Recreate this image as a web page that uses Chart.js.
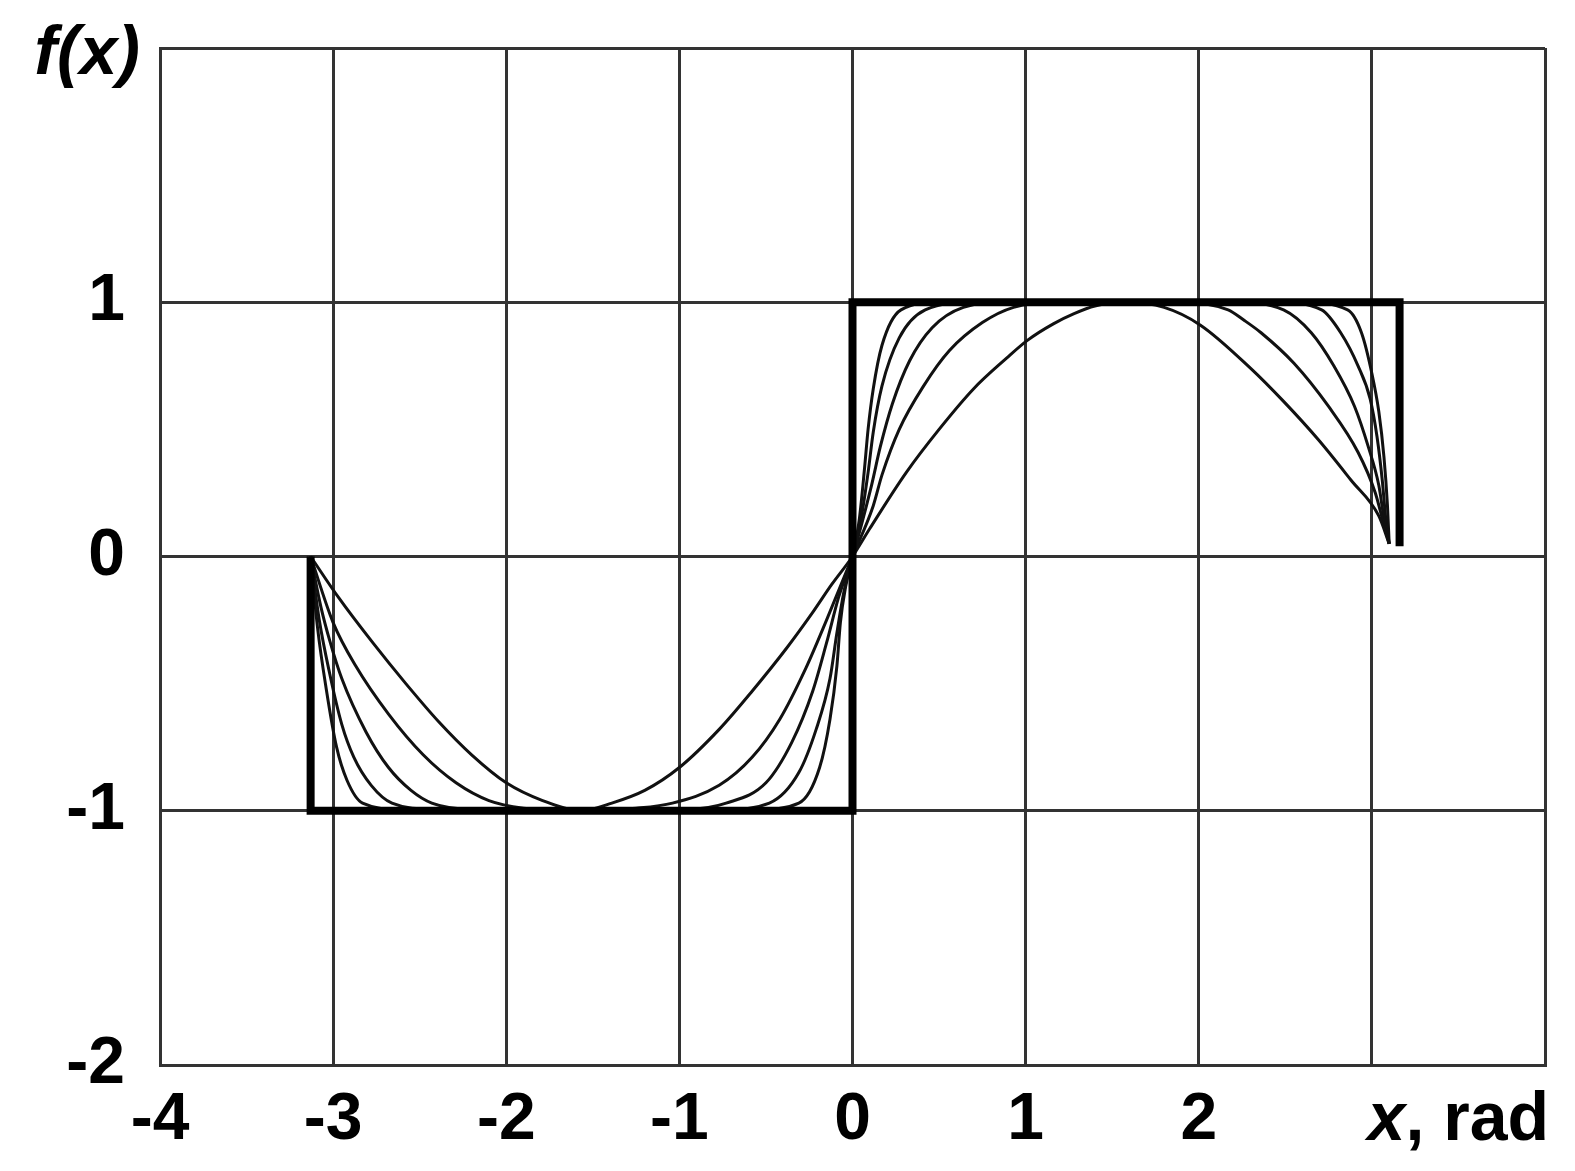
<!DOCTYPE html>
<html>
<head>
<meta charset="utf-8">
<script src="https://cdn.jsdelivr.net/npm/chart.js@4.4.1/dist/chart.umd.min.js"></script>
<style>
    body { margin: 0; background: #fff; }
</style>
</head>
<body>
<canvas id="FourierChart" width="1575" height="1171"></canvas>
<script>
// tick labels (3 and 4 on x, 2 on y are replaced by the axis names)
const xTickLabels = { '-4': '-4', '-3': '-3', '-2': '-2', '-1': '-1', '0': '0', '1': '1', '2': '2', '3': '', '4': '' };
const yTickLabels = { '-2': '-2', '-1': '-1', '0': '0', '1': '1', '2': '' };

// square wave, [x, y]
const squareWave = [[-3.13, 0], [-3.13, -1], [0, -1], [0, 1], [3.16, 1], [3.16, 0.04]];

// the five approximating curves, outermost (sin-like) to innermost
const curveA = [[-3.13, 0], [-2.97, -0.16], [-2.77, -0.34], [-2.58, -0.50], [-2.39, -0.65], [-2.20, -0.78], [-2.00, -0.89], [-1.79, -0.96], [-1.57, -1.0],
    [-1.39, -0.97], [-1.20, -0.92], [-1.00, -0.83], [-0.77, -0.68], [-0.58, -0.53], [-0.38, -0.36], [-0.23, -0.22], [-0.12, -0.11], [0, 0],
    [0.10, 0.11], [0.31, 0.33], [0.50, 0.50], [0.70, 0.66], [0.89, 0.78], [1.01, 0.85], [1.16, 0.915], [1.28, 0.955], [1.40, 0.985], [1.57, 1.0],
    [1.80, 0.98], [2.01, 0.91], [2.30, 0.74], [2.49, 0.61], [2.69, 0.46], [2.88, 0.30], [3.04, 0.16], [3.10, 0.05]];
const curveB = [[-3.13, 0], [-3.00, -0.26], [-2.87, -0.43], [-2.68, -0.62], [-2.48, -0.78], [-2.29, -0.89], [-2.10, -0.96], [-1.90, -0.99], [-1.57, -1.0],
    [-1.25, -0.99], [-1.04, -0.97], [-0.77, -0.90], [-0.58, -0.79], [-0.42, -0.64], [-0.27, -0.44], [-0.15, -0.25], [0, 0],
    [0.12, 0.20], [0.17, 0.32], [0.27, 0.50], [0.41, 0.67], [0.56, 0.81], [0.75, 0.92], [0.93, 0.98], [1.20, 1.0],
    [1.90, 1.0], [2.17, 0.97], [2.26, 0.93], [2.36, 0.88], [2.55, 0.76], [2.75, 0.59], [2.92, 0.41], [3.02, 0.25], [3.06, 0.15], [3.10, 0.05]];
const curveC = [[-3.13, 0], [-3.07, -0.20], [-3.02, -0.33], [-2.95, -0.48], [-2.81, -0.69], [-2.68, -0.83], [-2.55, -0.92], [-2.43, -0.97], [-2.20, -0.995], [-1.57, -1.0],
    [-0.95, -0.995], [-0.73, -0.97], [-0.50, -0.89], [-0.35, -0.73], [-0.23, -0.53], [-0.15, -0.34], [-0.08, -0.16], [0, 0],
    [0.11, 0.28], [0.16, 0.43], [0.23, 0.60], [0.33, 0.77], [0.46, 0.90], [0.64, 0.98], [0.90, 1.0],
    [2.20, 1.0], [2.49, 0.97], [2.65, 0.88], [2.78, 0.75], [2.90, 0.59], [2.98, 0.43], [3.04, 0.28], [3.07, 0.15], [3.10, 0.05]];
const curveD = [[-3.13, 0], [-3.08, -0.25], [-3.02, -0.46], [-2.95, -0.66], [-2.88, -0.79], [-2.78, -0.90], [-2.66, -0.97], [-2.40, -0.995], [-1.57, -1.0],
    [-0.75, -0.995], [-0.48, -0.97], [-0.31, -0.85], [-0.21, -0.68], [-0.13, -0.48], [-0.09, -0.30], [-0.05, -0.14], [0, 0],
    [0.05, 0.15], [0.09, 0.33], [0.12, 0.49], [0.17, 0.67], [0.27, 0.86], [0.42, 0.97], [0.70, 1.0],
    [2.45, 1.0], [2.71, 0.97], [2.82, 0.88], [2.92, 0.75], [2.99, 0.62], [3.03, 0.47], [3.06, 0.30], [3.08, 0.15], [3.10, 0.05]];
const curveE = [[-3.13, 0], [-3.09, -0.28], [-3.04, -0.52], [-2.98, -0.75], [-2.92, -0.88], [-2.83, -0.97], [-2.60, -0.995], [-1.57, -1.0],
    [-0.55, -0.995], [-0.31, -0.97], [-0.19, -0.83], [-0.13, -0.64], [-0.09, -0.43], [-0.07, -0.26], [-0.04, -0.12], [0, 0],
    [0.04, 0.15], [0.07, 0.35], [0.09, 0.50], [0.12, 0.66], [0.17, 0.83], [0.28, 0.97], [0.50, 1.0],
    [2.60, 1.0], [2.86, 0.97], [2.94, 0.88], [3.00, 0.72], [3.04, 0.57], [3.07, 0.39], [3.09, 0.20], [3.10, 0.05]];

const labelFont = 'Liberation Sans';
const gridColor = '#333';

function toPoints(arr) {
    return arr.map(p => ({ x: p[0], y: p[1] }));
}

function curveSet(arr) {
    return {
        data: toPoints(arr),
        borderColor: '#111',
        borderWidth: 3,
        pointRadius: 0,
        fill: false,
        cubicInterpolationMode: 'monotone'
    };
}

// draws "f(x)" in place of the top y label and "x, rad" in place of the last x labels
const axisNames = {
    id: 'axisNames',
    afterDraw(chart) {
        const ctx = chart.ctx;
        ctx.save();
        ctx.fillStyle = '#000';
        ctx.textBaseline = 'alphabetic';
        ctx.textAlign = 'right';
        ctx.font = 'italic bold 68px "' + labelFont + '"';
        ctx.fillText('f(x)', 140, 74);

        const rest = ', rad';
        ctx.font = 'bold 68px "' + labelFont + '"';
        const wRest = ctx.measureText(rest).width;
        ctx.fillText(rest, 1549, 1140);
        ctx.font = 'italic bold 68px "' + labelFont + '"';
        ctx.fillText('x', 1549 - wRest, 1140);
        ctx.restore();
    }
};

const ctx = document.getElementById('FourierChart').getContext('2d');
const fourierChart = new Chart(ctx, {
    type: 'line',
    data: {
        datasets: [
            {
                data: toPoints(squareWave),
                borderColor: '#000',
                borderWidth: 8,
                pointRadius: 0,
                fill: false,
                tension: 0,
                borderJoinStyle: 'miter'
            },
            curveSet(curveA),
            curveSet(curveB),
            curveSet(curveC),
            curveSet(curveD),
            curveSet(curveE)
        ]
    },
    options: {
        responsive: false,
        animation: false,
        layout: {
            padding: { top: 48, right: 30, left: 0, bottom: 0 }
        },
        plugins: {
            legend: { display: false },
            tooltip: { enabled: false }
        },
        scales: {
            x: {
                type: 'linear',
                min: -4,
                max: 4,
                ticks: {
                    stepSize: 1,
                    autoSkip: false,
                    maxRotation: 0,
                    padding: 16,
                    color: '#000',
                    font: { family: labelFont, weight: 'bold', size: 66 },
                    callback: v => xTickLabels[String(v)]
                },
                grid: { color: gridColor, lineWidth: 3, drawTicks: false },
                border: { color: gridColor, width: 3 },
                afterFit: scale => { scale.height = 106; scale.paddingLeft = 0; scale.paddingRight = 0; }
            },
            y: {
                type: 'linear',
                min: -2,
                max: 2,
                ticks: {
                    stepSize: 1,
                    padding: 35,
                    color: '#000',
                    font: { family: labelFont, weight: 'bold', size: 66 },
                    callback: v => yTickLabels[String(v)]
                },
                grid: { color: gridColor, lineWidth: 3, drawTicks: false },
                border: { color: gridColor, width: 3 },
                afterFit: scale => { scale.width = 160; scale.paddingTop = 0; scale.paddingBottom = 0; }
            }
        }
    },
    plugins: [axisNames]
});
</script>
</body>
</html>
